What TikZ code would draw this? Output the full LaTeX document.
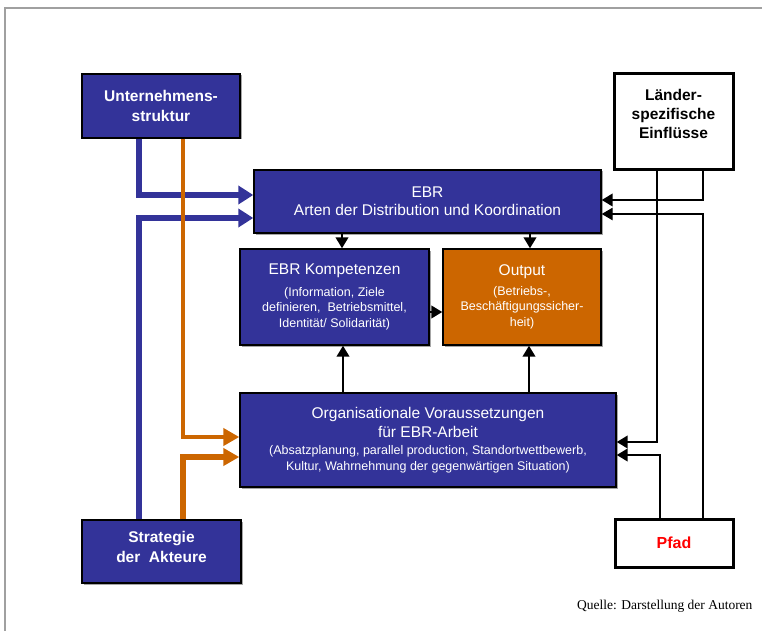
\documentclass[tikz,border=0pt]{standalone}
\usepackage{fontspec}
\setmainfont{Liberation Sans}
\newfontfamily\quellefont{Liberation Serif}
\usetikzlibrary{arrows.meta,shadows}
\definecolor{ebrblue}{RGB}{51,51,153}
\definecolor{ebrorange}{RGB}{204,102,0}
\definecolor{framegray}{RGB}{160,160,160}
\begin{document}
\begin{tikzpicture}[x=1pt,y=-1pt,
  boxbase/.style={draw=black, line width=1.4pt, align=center, inner sep=0pt,
    drop shadow={shadow xshift=1.5pt, shadow yshift=-1.5pt, fill=black!35, opacity=1}},
  bluebox/.style={boxbase, fill=ebrblue, text=white},
  orangebox/.style={boxbase, fill=ebrorange, text=white},
  whitebox/.style={draw=black, line width=3pt, fill=white, align=center, inner sep=0pt},
  subfont/.style={font=\fontsize{12.5}{15.5}\selectfont},
  titlefont/.style={font=\fontsize{15.5}{18}\selectfont},
  boldfont/.style={font=\fontsize{15.5}{20}\selectfont\bfseries},
  bluearrow/.style={draw=ebrblue, line width=6pt, -{Triangle[length=15pt,width=18pt]}},
  orangearrow/.style={draw=ebrorange, -{Triangle[length=16pt,width=17pt]}},
  blackarrow/.style={draw=black, line width=2.4pt, -{Triangle[length=11pt,width=12.5pt]}},
  thinarrow/.style={draw=black, line width=1.2pt, -{Triangle[length=11pt,width=12.5pt]}},
]
\useasboundingbox (0,0) rectangle (762,631);
\draw[framegray, line width=2pt] (5,631) -- (5,8) -- (762,8);

% boxes
\node[bluebox, boldfont, minimum width=158pt, minimum height=64pt] (unt) at (161,106) {Unternehmens-\\struktur};
\node[whitebox, minimum width=119pt, minimum height=96pt] (lae) at (673.5,122) {};
\node[boldfont, align=center] (laetext) at (673.5,114) {Länder-\\[-1pt]spezifische\\[-1pt]Einflüsse};
\node[bluebox, titlefont, minimum width=347pt, minimum height=63pt] (ebr) at (427.5,201.5) {EBR\\Arten der Distribution und Koordination};
\node[bluebox, subfont, minimum width=189pt, minimum height=96pt] (komp) at (334.5,297)
  {{\fontsize{15.5}{18}\selectfont EBR Kompetenzen}\\[6pt](Information, Ziele\\definieren,\ \ Betriebsmittel,\\Identität/ Solidarität)};
\node[orangebox, subfont, minimum width=158pt, minimum height=96pt] (out) at (522,297)
  {{\fontsize{15.5}{18}\selectfont Output}\\[4pt](Betriebs-,\\Beschäftigungssicher-\\heit)};
\node[bluebox, subfont, minimum width=376pt, minimum height=94pt] (org) at (428,440)
  {{\fontsize{15.5}{18}\selectfont Organisationale Voraussetzungen}\\[3pt]{\fontsize{15.5}{18}\selectfont für EBR-Arbeit}\\[2pt](Absatzplanung, parallel production, Standortwettbewerb,\\Kultur, Wahrnehmung der gegenwärtigen Situation)};
\node[bluebox, minimum width=159pt, minimum height=63pt] (str) at (161.5,551.5) {};
\node[boldfont, align=center, text=white] (strtext) at (161.5,547) {Strategie\\der\ \ Akteure};
\node[whitebox, minimum width=118pt, minimum height=48pt, text=red, font=\fontsize{16}{19}\selectfont\bfseries] (pfad) at (674,543) {Pfad};

\node[anchor=east, font=\quellefont\fontsize{13.5}{15}\selectfont] (quelle) at (756,606) {Quelle: Darstellung der Autoren};

% blue connectors
\draw[bluearrow] (unt.south -| 139,0) |- (ebr.west |- 0,195);
\draw[bluearrow] (str.north -| 139,0) |- (ebr.west |- 0,218);
% orange connectors
\draw[orangearrow, line width=4.5pt] (unt.south -| 183,0) |- (org.west |- 0,437);
\draw[orangearrow, line width=6pt] (str.north -| 183,0) |- (org.west |- 0,457);

% inner black arrows
\draw[blackarrow] (ebr.south -| 342,0) -- (komp.north -| 342,0);
\draw[blackarrow] (ebr.south -| 530,0) -- (out.north -| 530,0);
\draw[blackarrow] (komp.east |- 0,312) -- (out.west |- 0,312);
\draw[blackarrow] (org.north -| 343,0) -- (komp.south -| 343,0);
\draw[blackarrow] (org.north -| 529,0) -- (out.south -| 529,0);

% right side connectors
\draw[blackarrow] (lae.south -| 657,0) |- (org.east |- 0,442);
\draw[blackarrow] (lae.south -| 703,0) |- (ebr.east |- 0,200);
\draw[blackarrow] (pfad.north -| 660,0) |- (org.east |- 0,455);
\draw[thinarrow] (pfad.north -| 703,0) |- (ebr.east |- 0,214);
\end{tikzpicture}
\end{document}
